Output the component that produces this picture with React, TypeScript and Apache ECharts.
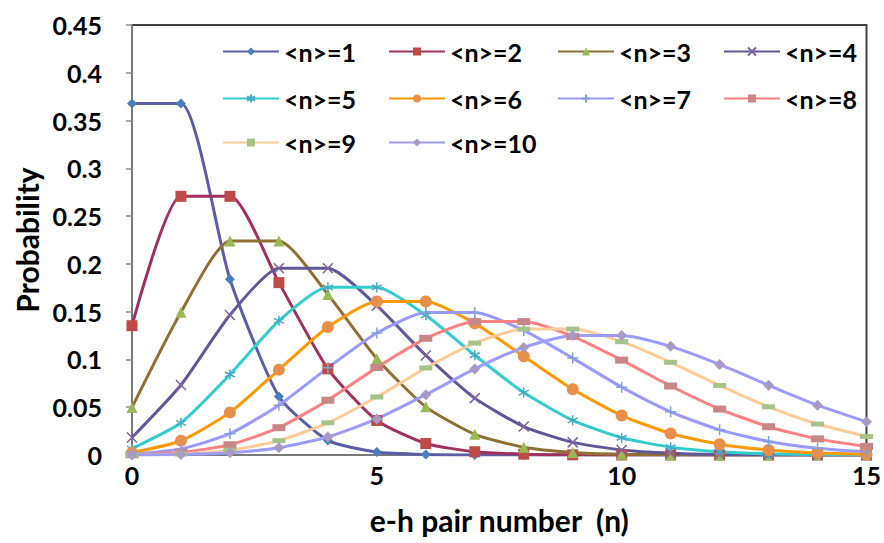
import React, { useEffect, useRef } from "react";
import * as echarts from "echarts";

const nValues = [0, 1, 2, 3, 4, 5, 6, 7, 8, 9, 10, 11, 12, 13, 14, 15];
const seriesNames = ["<n>=1", "<n>=2", "<n>=3", "<n>=4", "<n>=5", "<n>=6", "<n>=7", "<n>=8", "<n>=9", "<n>=10"];

const p1 = [0.3679, 0.3679, 0.1839, 0.0613, 0.0153, 0.0031, 0.0005, 0.0001, 0, 0, 0, 0, 0, 0, 0, 0];
const p2 = [0.1353, 0.2707, 0.2707, 0.1804, 0.0902, 0.0361, 0.012, 0.0034, 0.0009, 0.0002, 0, 0, 0, 0, 0, 0];
const p3 = [0.0498, 0.1494, 0.224, 0.224, 0.168, 0.1008, 0.0504, 0.0216, 0.0081, 0.0027, 0.0008, 0.0002, 0.0001, 0, 0, 0];
const p4 = [0.0183, 0.0733, 0.1465, 0.1954, 0.1954, 0.1563, 0.1042, 0.0595, 0.0298, 0.0132, 0.0053, 0.0019, 0.0006, 0.0002, 0.0001, 0];
const p5 = [0.0067, 0.0337, 0.0842, 0.1404, 0.1755, 0.1755, 0.1462, 0.1044, 0.0653, 0.0363, 0.0181, 0.0082, 0.0034, 0.0013, 0.0005, 0.0002];
const p6 = [0.0025, 0.0149, 0.0446, 0.0892, 0.1339, 0.1606, 0.1606, 0.1377, 0.1033, 0.0688, 0.0413, 0.0225, 0.0113, 0.0052, 0.0022, 0.0009];
const p7 = [0.0009, 0.0064, 0.0223, 0.0521, 0.0912, 0.1277, 0.149, 0.149, 0.1304, 0.1014, 0.071, 0.0452, 0.0263, 0.0142, 0.0071, 0.0033];
const p8 = [0.0003, 0.0027, 0.0107, 0.0286, 0.0573, 0.0916, 0.1221, 0.1396, 0.1396, 0.1241, 0.0993, 0.0722, 0.0481, 0.0296, 0.0169, 0.009];
const p9 = [0.0001, 0.0011, 0.005, 0.015, 0.0337, 0.0607, 0.0911, 0.1171, 0.1318, 0.1318, 0.1186, 0.097, 0.0728, 0.0504, 0.0324, 0.0194];
const p10 = [0.0001, 0.0005, 0.0023, 0.0076, 0.0189, 0.0378, 0.0631, 0.0901, 0.1126, 0.1251, 0.1251, 0.1137, 0.0948, 0.0729, 0.0521, 0.0347];
const allValues = [p1, p2, p3, p4, p5, p6, p7, p8, p9, p10];

const lineColors = ["#5B5EA6", "#A0305F", "#8F7034", "#5E5898", "#33CCCC", "#FF9900", "#9999FF", "#FF8080", "#FFCC99", "#9C9CFF"];
const markerColors = ["#4A7EBB", "#BE4B48", "#98B954", "#7F62A1", "#46AAC4", "#E8904A", "#7FA3D3", "#C98686", "#A6C48A", "#A79BC6"];
const markerShapes = [
  "diamond",
  "rect",
  "triangle",
  "path://M0,0L10,10M10,0L0,10",
  "path://M5,0L5,10M0,2.5L10,7.5M0,7.5L10,2.5",
  "circle",
  "path://M5,0L5,10M0,5L10,5",
  "rect",
  "rect",
  "diamond",
];
const markerSizes: any[] = [10, 11, 11, 10, 10, 12, 11, [13, 7], [13, 5], 11];

const legendCols = [222, 388, 557, 723];
const legendRows = [39, 86, 130];

const FONT = "Lato";

export default function App() {
  const ref = useRef<HTMLDivElement>(null);
  useEffect(() => {
    document.body.style.margin = "0";
    if (!ref.current) return;
    const chart = echarts.init(ref.current, null, { renderer: "svg" });
    const series = seriesNames.map((name, i) => {
      const isStroke = markerShapes[i].startsWith("path://");
      return {
        name,
        type: "line",
        data: nValues.map((n, j) => [n, allValues[i][j]]),
        smooth: 0.2,
        symbol: markerShapes[i],
        symbolSize: markerSizes[i],
        showAllSymbol: true,
        lineStyle: { color: lineColors[i], width: 3 },
        itemStyle: {
          color: isStroke ? "rgba(0,0,0,0)" : markerColors[i],
          borderColor: markerColors[i],
          borderWidth: isStroke ? 1.5 : 0,
        },
        emphasis: { disabled: true },
      };
    });
    const legends = seriesNames.map((name, i) => ({
      show: true,
      data: [name],
      left: legendCols[i % 4],
      top: legendRows[Math.floor(i / 4)],
      padding: 0,
      itemWidth: 56,
      itemHeight: 10,
      itemGap: 6,
      textStyle: { fontFamily: FONT, fontWeight: "bold", fontSize: 25, color: "#000" },
    }));
    chart.setOption({
      animation: false,
      backgroundColor: "#fff",
      grid: {
        left: 132,
        right: 17,
        top: 25,
        bottom: 88,
        show: true,
        borderColor: "#404040",
        borderWidth: 2,
      },
      legend: legends,
      xAxis: {
        type: "value",
        min: 0,
        max: 15,
        interval: 5,
        name: "e-h pair number  (n)",
        nameLocation: "middle",
        nameGap: 50,
        nameTextStyle: { fontFamily: FONT, fontWeight: "bold", fontSize: 30, color: "#000" },
        axisLine: { show: true, lineStyle: { color: "#8C8C8C", width: 1.5 } },
        axisTick: { show: false },
        splitLine: { show: false },
        axisLabel: { fontFamily: FONT, fontWeight: "bold", fontSize: 25, color: "#000", margin: 7 },
      },
      yAxis: {
        type: "value",
        min: 0,
        max: 0.45,
        interval: 0.05,
        name: "Probability",
        nameLocation: "middle",
        nameGap: 90,
        nameTextStyle: { fontFamily: FONT, fontWeight: "bold", fontSize: 30, color: "#000" },
        axisLine: { show: true, lineStyle: { color: "#8C8C8C", width: 1.5 } },
        axisTick: { show: true, inside: false, length: 6, lineStyle: { color: "#8C8C8C", width: 1.5 } },
        splitLine: { show: false },
        axisLabel: {
          fontFamily: FONT,
          fontWeight: "bold",
          fontSize: 25,
          color: "#000",
          margin: 30,
          formatter: (v: number) => String(parseFloat(v.toFixed(2))),
        },
      },
      series,
    });
    return () => chart.dispose();
  }, []);
  return <div ref={ref} style={{ width: 884, height: 543 }} />;
}
